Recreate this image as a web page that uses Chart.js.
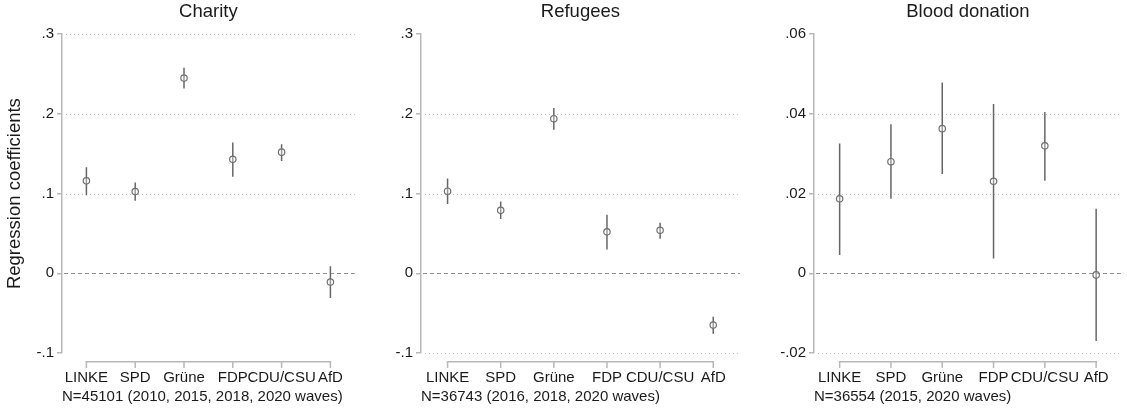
<!DOCTYPE html>
<html>
<head>
<meta charset="utf-8">
<script src="https://cdn.jsdelivr.net/npm/chart.js@4.4.1/dist/chart.umd.min.js"></script>
<style>
  html, body { margin: 0; padding: 0; background: #fff; }
  .panel { position: absolute; top: 0; height: 408px; }
</style>
</head>
<body>
<div class="panel" style="left:0;width:360px"><canvas id="charity-chart"></canvas></div>
<div class="panel" style="left:360px;width:385px"><canvas id="refugees-chart"></canvas></div>
<div class="panel" style="left:745px;width:382px"><canvas id="blood-chart"></canvas></div>
<script>
/* Party coefficients with 95% CIs, three outcomes */

const parties = ['LINKE', 'SPD', 'Grüne', 'FDP', 'CDU/CSU', 'AfD'];

const charityEst = [0.116, 0.1025, 0.245, 0.143, 0.152, -0.011];
const charityLo  = [0.098, 0.091, 0.232, 0.121, 0.141, -0.031];
const charityHi  = [0.133, 0.114, 0.258, 0.164, 0.162, 0.009];
const charityTicks = [-0.1, 0, 0.1, 0.2, 0.3];

const refugeesEst = [0.103, 0.079, 0.194, 0.052, 0.054, -0.065];
const refugeesLo  = [0.087, 0.068, 0.180, 0.030, 0.0435, -0.076];
const refugeesHi  = [0.119, 0.090, 0.2075, 0.0735, 0.0635, -0.0545];
const refugeesTicks = [-0.1, 0, 0.1, 0.2, 0.3];

const bloodEst = [0.0187, 0.028, 0.0363, 0.0231, 0.032, -0.0004];
const bloodLo  = [0.0046, 0.0187, 0.0249, 0.0037, 0.0232, -0.017];
const bloodHi  = [0.0326, 0.0374, 0.0479, 0.0425, 0.0405, 0.0162];
const bloodTicks = [-0.02, 0, 0.02, 0.04, 0.06];

const FONT = "'Liberation Sans', Arial, sans-serif";
const AXIS_GREY = '#b8b8b8';
const MARK_GREY = '#666666';

Chart.defaults.font.family = FONT;
Chart.defaults.color = '#1a1a1a';
Chart.defaults.animation = false;

// Stata-style decimal labels: .3, -.1, 0
function stataFmt(v, digits) {
    if (Math.abs(v) < 1e-9) return '0';
    return v.toFixed(digits).replace(/^(-?)0\./, '$1.');
}

// dotted grid, dashed zero line and detached x axis, drawn off the scales
function stataAxes(gridAt) {
    return {
        id: 'stataAxes',
        beforeDatasetsDraw(chart) {
            const { ctx, chartArea, scales: { y } } = chart;
            ctx.fillStyle = '#bdbdbd';
            gridAt.forEach(v => {
                const py = Math.round(y.getPixelForValue(v));
                for (let px = chartArea.left + 4; px < chartArea.right; px += 4) {
                    ctx.fillRect(px, py, 1, 1);
                }
            });
            const y0 = Math.round(y.getPixelForValue(0));
            ctx.fillStyle = '#8f8f8f';
            for (let px = chartArea.left + 2; px < chartArea.right; px += 7) {
                ctx.fillRect(px, y0, Math.min(4, chartArea.right - px), 1);
            }
        },
        afterDraw(chart) {
            const { ctx, chartArea, scales: { x } } = chart;
            const ay = Math.round(chartArea.bottom + 8);
            const x1 = x.getPixelForValue(1);
            const x2 = x.getPixelForValue(parties.length);
            ctx.fillStyle = AXIS_GREY;
            ctx.fillRect(x1 - 0.75, ay, x2 - x1 + 1.5, 1.5);
            parties.forEach((_, i) => {
                const px = x.getPixelForValue(i + 1);
                ctx.fillRect(px - 0.75, ay, 1.5, 7);
            });
        }
    };
}

function initCoefPanel(id, cfg) {
    const ctx = document.getElementById(id);
    if (!ctx) return;

    const ciSets = parties.map((p, i) => ({
        type: 'line',
        label: p + ' CI',
        data: [{ x: i + 1, y: cfg.lo[i] }, { x: i + 1, y: cfg.hi[i] }],
        borderColor: MARK_GREY,
        borderWidth: 1.5,
        pointRadius: 0,
        order: 2
    }));

    new Chart(ctx, {
        type: 'scatter',
        data: {
            datasets: [{
                label: cfg.title,
                data: cfg.est.map((v, i) => ({ x: i + 1, y: v })),
                pointRadius: 3.2,
                pointBackgroundColor: 'rgba(255,255,255,0.35)',
                pointBorderColor: '#707070',
                pointBorderWidth: 1.2,
                order: 1
            }, ...ciSets]
        },
        options: {
            responsive: true,
            maintainAspectRatio: false,
            layout: { padding: { left: 0, right: cfg.padRight, top: 0, bottom: 0 } },
            scales: {
                x: {
                    type: 'linear',
                    min: 0.5,
                    max: parties.length + 0.5,
                    afterBuildTicks: s => { s.ticks = parties.map((_, i) => ({ value: i + 1 })); },
                    afterFit: s => { s.height = 55; },
                    grid: { display: false },
                    border: { display: false },
                    ticks: {
                        padding: 8,
                        maxRotation: 0,
                        autoSkip: false,
                        font: { size: 15 },
                        callback: v => parties[v - 1]
                    },
                    title: {
                        display: true,
                        text: cfg.note,
                        align: 'start',
                        font: { size: 15 },
                        padding: { top: 0, bottom: 2 }
                    }
                },
                y: {
                    min: cfg.ticks[0],
                    max: cfg.ticks[cfg.ticks.length - 1],
                    afterBuildTicks: s => { s.ticks = cfg.ticks.map(v => ({ value: v })); },
                    afterFit: s => { s.width = cfg.axisLeft; },
                    grid: {
                        drawOnChartArea: false,
                        color: AXIS_GREY,
                        tickLength: 5,
                        lineWidth: 1.5
                    },
                    border: { display: true, color: AXIS_GREY, width: 1.5 },
                    ticks: {
                        padding: 3,
                        font: { size: 15 },
                        callback: v => stataFmt(v, cfg.digits)
                    },
                    title: {
                        display: !!cfg.yTitle,
                        text: cfg.yTitle || '',
                        font: { size: 18.5 },
                        padding: { top: 4, bottom: 0 }
                    }
                }
            },
            plugins: {
                legend: { display: false },
                tooltip: { enabled: false },
                title: {
                    display: true,
                    text: cfg.title,
                    fullSize: false,
                    font: { size: 18.5, weight: 'normal' },
                    color: '#1a1a1a',
                    padding: { top: 1, bottom: 11 }
                }
            }
        },
        plugins: [stataAxes(cfg.gridAt)]
    });
}

initCoefPanel('charity-chart', {
    title: 'Charity',
    note: 'N=45101 (2010, 2015, 2018, 2020 waves)',
    yTitle: 'Regression coefficients',
    est: charityEst, lo: charityLo, hi: charityHi,
    ticks: charityTicks, gridAt: [0.1, 0.2, 0.3],
    digits: 1, axisLeft: 62, padRight: 3
});

initCoefPanel('refugees-chart', {
    title: 'Refugees',
    note: 'N=36743 (2016, 2018, 2020 waves)',
    est: refugeesEst, lo: refugeesLo, hi: refugeesHi,
    ticks: refugeesTicks, gridAt: [-0.1, 0.1, 0.2],
    digits: 1, axisLeft: 61, padRight: 3
});

initCoefPanel('blood-chart', {
    title: 'Blood donation',
    note: 'N=36554 (2015, 2020 waves)',
    est: bloodEst, lo: bloodLo, hi: bloodHi,
    ticks: bloodTicks, gridAt: [-0.02, 0.02, 0.04],
    digits: 2, axisLeft: 69, padRight: 0
});
</script>
</body>
</html>
